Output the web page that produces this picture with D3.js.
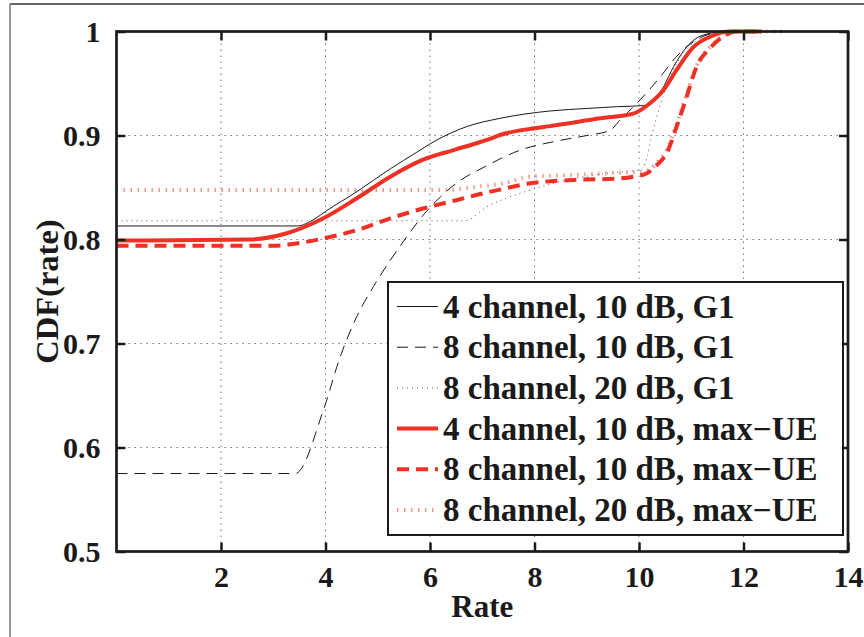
<!DOCTYPE html>
<html><head><meta charset="utf-8">
<script src="https://cdn.jsdelivr.net/npm/d3@7"></script>
<style>
html,body{margin:0;padding:0;background:#fff;}
</style></head>
<body><svg id="c" width="864" height="637" font-family="Liberation Serif" font-weight="bold"></svg>
<script>
// ---- data ----
const xTicks = [2, 4, 6, 8, 10, 12, 14];
const yTicks = [0.5, 0.6, 0.7, 0.8, 0.9, 1];
const yTickLabels = ["0.5", "0.6", "0.7", "0.8", "0.9", "1"];
const xGrid = [2, 4, 6, 8, 10, 12];
const yGrid = [0.6, 0.7, 0.8, 0.9];

const s1x = [0, 3.45, 3.8, 4.0, 4.6, 5.24, 5.75, 6.07, 6.7, 7.34, 8.3, 9.0, 9.57, 10.18, 10.3, 10.47, 10.66, 10.91, 11.23, 11.68, 12.0];
const s1y = [0.813, 0.813, 0.820, 0.827, 0.846, 0.868, 0.884, 0.894, 0.9085, 0.9165, 0.9236, 0.926, 0.9277, 0.929, 0.935, 0.947, 0.966, 0.985, 0.9966, 1.0, 1.0];

const s2x = [0, 3.42, 3.96, 4.28, 4.6, 4.92, 5.24, 5.56, 5.88, 6.2, 6.5, 7.05, 7.73, 8.36, 9.0, 9.45, 9.62, 9.96, 10.41, 10.7, 11.04, 11.49, 11.8];
const s2y = [0.575, 0.575, 0.636, 0.687, 0.726, 0.755, 0.780, 0.803, 0.824, 0.841, 0.854, 0.870, 0.886, 0.894, 0.900, 0.905, 0.914, 0.931, 0.9565, 0.975, 0.990, 0.999, 1.0];

const s3x = [0, 6.67, 7.09, 7.53, 7.92, 8.49, 9.38, 10.02, 10.15, 10.21, 10.4, 10.63, 10.85, 11.23, 11.6, 12.0];
const s3y = [0.818, 0.818, 0.8315, 0.841, 0.8476, 0.8556, 0.8637, 0.867, 0.878, 0.8925, 0.928, 0.96, 0.979, 0.995, 1.0, 1.0];

const s4x = [0, 2.56, 3.26, 3.96, 4.6, 5.24, 5.88, 6.45, 7.09, 7.34, 8.0, 8.3, 9.26, 9.89, 10.21, 10.47, 10.72, 11.04, 11.36, 11.74, 12.35];
const s4y = [0.799, 0.800, 0.806, 0.8204, 0.8396, 0.8604, 0.877, 0.886, 0.8957, 0.9005, 0.907, 0.909, 0.9165, 0.921, 0.931, 0.9438, 0.963, 0.985, 0.995, 1.0, 1.0];

const s5x = [0, 3.0, 3.33, 3.96, 4.6, 5.24, 5.88, 6.52, 7.02, 7.34, 7.92, 8.75, 9.64, 9.89, 10.15, 10.34, 10.53, 10.72, 10.91, 11.1, 11.36, 11.61, 11.87, 12.3];
const s5y = [0.794, 0.794, 0.7954, 0.801, 0.809, 0.8204, 0.830, 0.838, 0.8444, 0.848, 0.854, 0.8572, 0.8588, 0.8604, 0.8637, 0.8716, 0.883, 0.9085, 0.937, 0.966, 0.984, 0.995, 1.0, 1.0];

const s6x = [0, 6.3, 6.9, 7.4, 7.92, 8.75, 9.64, 10.0, 10.2, 10.34, 10.53, 10.72, 10.91, 11.1, 11.36, 11.61, 11.87, 12.8];
const s6y = [0.8476, 0.8476, 0.8508, 0.854, 0.8604, 0.862, 0.8642, 0.865, 0.867, 0.874, 0.886, 0.911, 0.939, 0.967, 0.985, 0.996, 1.0, 1.0];

const legendLabels = ["4 channel, 10 dB, G1", "8 channel, 10 dB, G1", "8 channel, 20 dB, G1",
  "4 channel, 10 dB, max\u2212UE", "8 channel, 10 dB, max\u2212UE", "8 channel, 20 dB, max\u2212UE"];

// ---- styles ----
const FONT = "'Liberation Serif', 'Times New Roman', serif";
const RED = "#ee3124";
const styles = [
  {stroke:"#1a1a1a", w:1, dash:null},
  {stroke:"#1a1a1a", w:1, dash:"11,7"},
  {stroke:"#555", w:1, dash:"1,4"},
  {stroke:RED, w:4, dash:null},
  {stroke:RED, w:4, dash:"12,7"},
  {stroke:"#f5948a", w:4, dash:"1.5,5.5"}
];
const series = [[s1x,s1y],[s2x,s2y],[s3x,s3y],[s4x,s4y],[s5x,s5y],[s6x,s6y]];

const svg = d3.select("#c");
const L = 116.5, R = 848, T = 31.5, B = 551.5;
const x = d3.scaleLinear().domain([0,14]).range([L,R]);
const y = d3.scaleLinear().domain([0.5,1]).range([B,T]);

function styleText(sel, size){
  sel.style("font-family", FONT).style("font-weight","bold").style("font-size", size+"px").style("fill","#1a1a1a");
}

// frame
svg.append("line").attr("x1",10).attr("x2",864).attr("y1",4).attr("y2",4).attr("stroke","#333").attr("stroke-width",1.5);
svg.append("line").attr("x1",10).attr("x2",10).attr("y1",4).attr("y2",637).attr("stroke","#777").attr("stroke-width",1.5);

// grid
const g = svg.append("g");
g.selectAll(".gx").data(xGrid).enter().append("line")
  .attr("x1",d=>x(d)).attr("x2",d=>x(d)).attr("y1",T).attr("y2",B)
  .attr("stroke","#777").attr("stroke-width",1).attr("stroke-dasharray","1.5,4.5");
g.selectAll(".gy").data(yGrid).enter().append("line")
  .attr("x1",L).attr("x2",R).attr("y1",d=>y(d)).attr("y2",d=>y(d))
  .attr("stroke","#777").attr("stroke-width",1).attr("stroke-dasharray","1.5,4.5");

// curves
const line = d3.line().x(d=>x(d[0])).y(d=>y(d[1])).curve(d3.curveMonotoneX);
const order = [2,1,0,5,4,3];
order.forEach(i=>{
  const [xs,ys] = series[i];
  const pts = xs.map((v,k)=>[v,ys[k]]);
  const st = styles[i];
  const p = svg.append("path").datum(pts).attr("d",line).attr("fill","none")
    .attr("stroke",st.stroke).attr("stroke-width",st.w).attr("stroke-linejoin","round");
  if(st.dash) p.attr("stroke-dasharray",st.dash);
});

// axes box and ticks
const ax = svg.append("g");
const tickLen = 9;
const xAxisB = d3.axisBottom(x).tickValues(xTicks).tickSize(-tickLen).tickPadding(14).tickFormat(d3.format("d"));
const xAxisT = d3.axisTop(x).tickValues(xTicks).tickSize(-tickLen).tickFormat("");
const yAxisL = d3.axisLeft(y).tickValues(yTicks).tickSize(-tickLen).tickPadding(16).tickFormat((d,i)=>yTickLabels[i]);
const yAxisR = d3.axisRight(y).tickValues(yTicks).tickSize(-tickLen).tickFormat("");
const gb = ax.append("g").attr("transform",`translate(0,${B})`).call(xAxisB);
const gt = ax.append("g").attr("transform",`translate(0,${T})`).call(xAxisT);
const gl = ax.append("g").attr("transform",`translate(${L},0)`).call(yAxisL);
const gr = ax.append("g").attr("transform",`translate(${R},0)`).call(yAxisR);
[gb,gt,gl,gr].forEach(a=>{
  a.attr("font-family", null).attr("font-size", null);
  a.select(".domain").remove();
  a.selectAll(".tick line").attr("stroke","#1a1a1a").attr("stroke-width",2.5);
  styleText(a.selectAll("text"), 30);
});
gb.selectAll("text").attr("dy","0.71em");
ax.append("rect").attr("x",L).attr("y",T).attr("width",R-L).attr("height",B-T)
  .attr("fill","none").attr("stroke","#1a1a1a").attr("stroke-width",2.7);

// axis titles
styleText(svg.append("text").attr("x",(L+R)/2).attr("y",617).attr("text-anchor","middle").text("Rate"), 31);
styleText(svg.append("text").attr("transform",`translate(58,${(T+B)/2}) rotate(-90)`).attr("text-anchor","middle").text("CDF(rate)"), 32.5);

// legend
const lg = svg.append("g");
lg.append("rect").attr("x",388).attr("y",282).attr("width",455).attr("height",253)
  .attr("fill","#fff").attr("stroke","#1a1a1a").attr("stroke-width",2);
legendLabels.forEach((lab,i)=>{
  const cy = 306.5 + i*40.7;
  const st = styles[i];
  const l = lg.append("line").attr("x1",397).attr("x2",438).attr("y1",cy).attr("y2",cy)
    .attr("stroke",st.stroke).attr("stroke-width",st.w);
  if(st.dash) l.attr("stroke-dasharray",st.dash);
  styleText(lg.append("text").attr("x",443).attr("y",cy+11).text(lab), 33);
});
</script></body></html>
